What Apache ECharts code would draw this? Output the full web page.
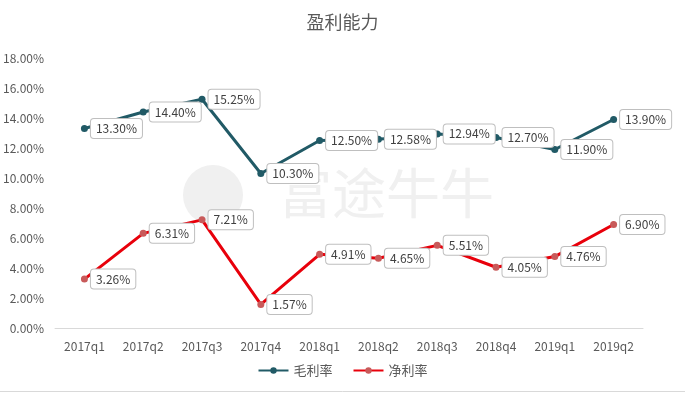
<!DOCTYPE html>
<html>
<head>
<meta charset="utf-8">
<script src="https://cdn.jsdelivr.net/npm/echarts@6/dist/echarts.min.js"></script>
<style>html,body{margin:0;padding:0;background:#fff}#c{width:685px;height:394px}</style>
</head>
<body>
<div id="c"></div>
<script>
var categories = ['2017q1','2017q2','2017q3','2017q4','2018q1','2018q2','2018q3','2018q4','2019q1','2019q2'];
var grossMargin = [13.30,14.40,15.25,10.30,12.50,12.58,12.94,12.70,11.90,13.90];
var netMargin = [3.26,6.31,7.21,1.57,4.91,4.65,5.51,4.05,4.76,6.90];
var seriesNames = ['毛利率','净利率'];
var yTicks = {min:0, max:18, interval:2};

var font = "'Noto Sans CJK SC', 'Open Sans', sans-serif";
function labelCfg(){
  return {
    show:true, position:'right', distance:3, offset:[0,0],
    formatter:function(p){return p.value.toFixed(2)+'%';},
    backgroundColor:'#fff', borderColor:'#bfbfbf', borderWidth:1, borderRadius:3,
    padding:[4,5,3,5], color:'#404040', fontSize:12, fontFamily:font
  };
}
var chart = echarts.init(document.getElementById('c'), null, {renderer:'canvas'});
chart.setOption({
  backgroundColor:'#fff',
  animation:false,
  title:{text:'盈利能力', left:'center', top:8, textStyle:{fontSize:18, fontWeight:'normal', color:'#595959', fontFamily:font}},
  graphic:[
    {type:'circle', shape:{cx:213, cy:195, r:30}, style:{fill:'#f0f0f0'}, z:-1},
    {type:'text', left:278, top:166, style:{text:'富途牛牛', fontSize:54, fill:'#f0f0f0', fontFamily:font, fontWeight:'normal'}, z:-1},
    {type:'line', shape:{x1:0,y1:391.5,x2:685,y2:391.5}, style:{stroke:'#d9d9d9', lineWidth:1}}
  ],
  legend:{bottom:12, left:'center', itemWidth:30, itemHeight:8, itemGap:20, textStyle:{fontSize:13, color:'#595959', fontFamily:font}, data:seriesNames},
  grid:{left:53, right:42, top:58, bottom:66},
  xAxis:{type:'category', data:categories, boundaryGap:true,
    axisLine:{lineStyle:{color:'#d9d9d9'}}, axisTick:{show:false},
    axisLabel:{color:'#595959', fontSize:12, fontFamily:font, margin:12}},
  yAxis:{type:'value', min:yTicks.min, max:yTicks.max, interval:yTicks.interval,
    axisLine:{show:false}, axisTick:{show:false}, splitLine:{show:false},
    axisLabel:{color:'#595959', fontSize:12, fontFamily:font, margin:11, formatter:function(v){return v.toFixed(2)+'%';}}},
  series:[
    {name:seriesNames[0], type:'line', data:grossMargin, symbol:'circle', symbolSize:7,
      lineStyle:{color:'#215A66', width:3}, itemStyle:{color:'#215A66'}, label:labelCfg()},
    {name:seriesNames[1], type:'line', data:netMargin, symbol:'circle', symbolSize:7,
      lineStyle:{color:'#E8000B', width:3}, itemStyle:{color:'#C85A5A'}, label:labelCfg()}
  ]
});
</script>
</body>
</html>
